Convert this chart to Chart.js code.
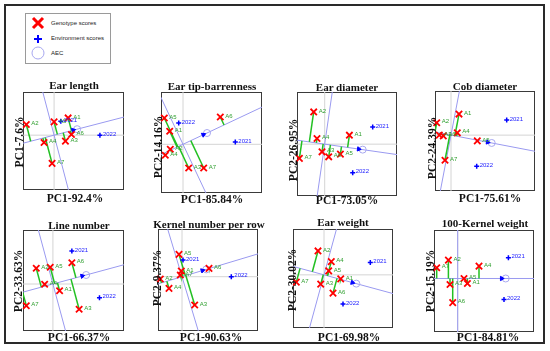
<!DOCTYPE html>
<html>
<head>
<meta charset="utf-8">
<script src="https://cdn.jsdelivr.net/npm/chart.js@4.4.1/dist/chart.umd.min.js"></script>
<style>
  body { margin: 0; background: #fff; }
  #fig { position: relative; width: 550px; height: 351px; overflow: hidden; }
  #frame { position: absolute; left: 4px; top: 4px; width: 537px; height: 336px; border: 2px solid #2a2a2a; }
  #fig canvas { position: absolute; }
  .ttl, .xlab, .ylab {
    position: absolute; white-space: nowrap; color: #111;
    font-family: "Liberation Serif", "Times New Roman", serif; font-weight: bold;
  }
  .ttl { font-size: 11px; transform: translate(-50%, -50%); }
  .xlab { font-size: 11.5px; transform: translate(-50%, -50%); }
  .ylab { font-size: 11.5px; transform: translate(-50%, -50%) rotate(-90deg); }
  #legend { position: absolute; left: 25px; top: 13px; width: 84px; height: 49px; border: 1px solid #9a9a9a; }
  #legend svg { position: absolute; left: 0; top: 0; }
  #legend span { position: absolute; left: 25px; font: 6px "Liberation Sans", Arial, sans-serif; color: #222; transform: translateY(-50%); }
</style>
</head>
<body>
<div id="fig">
  <div id="frame"></div>
  <div id="legend">
    <svg width="84" height="49">
      <path d="M7 4 L17 14 M17 4 L7 14" stroke="#ff0000" stroke-width="3"/>
      <path d="M12 21 L12 29 M8 25 L16 25" stroke="#0000ff" stroke-width="2"/>
      <circle cx="12" cy="39" r="6" fill="none" stroke="#a8a8f0" stroke-width="1"/>
    </svg>
    <span style="top:9px">Genotype scores</span>
    <span style="top:24px">Environment scores</span>
    <span style="top:39px">AEC</span>
  </div>
</div>
<script>
// Biplots GGE (8 caracteres)
const traitTitles = ["Ear length", "Ear tip-barrenness", "Ear diameter", "Cob diameter",
  "Line number", "Kernel number per row", "Ear weight", "100-Kernel weight"];
const pc1Labels = ["PC1-92.4%", "PC1-85.84%", "PC1-73.05%", "PC1-75.61%",
  "PC1-66.37%", "PC1-90.63%", "PC1-69.98%", "PC1-84.81%"];
const pc2Labels = ["PC1-7.6%", "PC2-14.16%", "PC2-26.95%", "PC2-24.39%",
  "PC2-33.63%", "PC2-9.37%", "PC2-30.02%", "PC2-15.19%"];

const genotypes = ["A1", "A2", "A3", "A4", "A5", "A6", "A7"];
const environments = ["2021", "2022"];

// scores por painel, genotipos A1..A7
const genoPC1 = [
  [1.4, -2.77, 1.13, -1.0, 0, 1.73, -0.2],
  [-1.33, -1.27, 0.57, -1.77, -1.87, 3.73, 2.07],
  [2.47, -1.1, -0.27, -0.77, 1.57, 0.4, -2.53],
  [0.8, -1.43, -1.17, 0.63, 2.63, -0.77, -0.6],
  [0.67, -1.67, 2.63, -0.83, -0.27, 1.9, -2.67],
  [-0.07, -2.17, 1.27, -1.3, -0.3, 2.7, -0.17],
  [1.67, -0.6, -0.33, 0.73, 0.47, 0.9, -2.77],
  [0.97, -0.93, -0.77, 2.13, 0.63, -0.5, -2.1],
];
const genoPC2 = [
  [1.73, 1.07, -0.6, -0.73, 1.33, 0.07, -2.83],
  [1.3, -0.5, -2.37, -1.1, 2.63, 2.73, -2.37],
  [0.9, 3.23, -0.77, 0.57, -1.0, -1.27, -1.43],
  [2.1, 1.23, 0, 0.23, -0.57, -0.07, -2.5],
  [-0.67, 1.57, -2.53, -0.03, 1.67, 2.13, -2.17],
  [0.57, -0.23, -2.83, -1.17, 2.23, 0.83, 0.17],
  [-0.4, 2.4, -0.93, 1.33, 0.4, -1.83, -0.73],
  [-0.5, 1.83, -0.6, 1.23, 0, -2.4, 1.07],
];
// ambientes 2021, 2022
const envPC1 = [[0.67, 4.57], [5.23, -0.43], [4.8, 2.8], [5.57, 2.57], [1.9, 4.67], [0.1, 4.93], [4.63, 1.9], [5.07, 4.63]];
const envPC2 = [[1.4, 0], [0.23, 2.13], [1.73, -2.87], [1.5, -3.1], [3.3, -1.37], [1.67, 0], [1.23, -2.93], [2.07, -2.1]];
// ambiente medio (circulo AEC)
const aecPC1 = [2.3, 2.4, 3.8, 4.07, 3.33, 2.43, 3.23, 4.8];
const aecPC2 = [0.6, 1.13, -0.55, -0.78, 0.9, 0.73, -0.88, 0];

// limites dos eixos
const xMin = [-3.1, -2.2, -2.77, -1.6, -3.0, -2.4, -3.1, -2.37];
const xMax = [6.97, 7.9, 7.23, 8.4, 7.13, 7.6, 6.9, 7.63];
const yMin = [-5.5, -4.87, -5.2, -5.57, -4.7, -5.43, -5.33, -5.33];
const yMax = [4.33, 5.23, 5.23, 4.4, 5.4, 4.77, 4.6, 4.83];

// layout: caixa [left, top, w, h], titulo y, xlabel [cx, cy], ylabel [cx, cy]
const boxes = [[23, 92, 101, 98], [161, 92, 101, 101], [297, 92, 100, 104], [435, 91, 100, 100],
  [23, 230, 101, 101], [158, 229, 100, 102], [293, 229, 100, 99], [434, 230, 100, 102]];
const titleY = [85, 86, 87, 86, 225, 224, 222, 223];
const titleX = [74, 212, 347, 485, 79, 209, 343, 485];
const xlabPos = [[75, 198], [212, 199], [347, 200], [490, 198], [79, 337], [211, 337], [349, 337], [488, 337]];
const ylabPos = [[19, 142], [158, 147], [293, 150], [432, 148], [18, 281], [157, 278], [292, 280], [430, 281]];

const PAD = 8;
const fig = document.getElementById("fig");

const addText = (cls, text, x, y) => {
  const el = document.createElement("div");
  el.className = cls;
  el.textContent = text;
  el.style.left = x + "px";
  el.style.top = y + "px";
  fig.appendChild(el);
};

// moldura da area do grafico
const boxBorder = {
  id: "boxBorder",
  beforeDatasetsDraw(chart) {
    const { ctx, chartArea: a } = chart;
    ctx.save();
    ctx.strokeStyle = "#3a3a3a";
    ctx.lineWidth = 1;
    ctx.strokeRect(a.left + 0.5, a.top + 0.5, a.width - 1, a.height - 1);
    ctx.restore();
  },
};

// rotulos dos pontos (A1.., 2021..)
const pointLabels = {
  id: "pointLabels",
  afterDatasetsDraw(chart) {
    const ctx = chart.ctx;
    ctx.save();
    ctx.font = "6px 'Liberation Sans', Arial, sans-serif";
    ctx.textBaseline = "middle";
    chart.data.datasets.forEach((ds, i) => {
      if (!ds.names) return;
      ctx.fillStyle = ds.labelColor;
      chart.getDatasetMeta(i).data.forEach((pt, j) => {
        ctx.fillText(ds.names[j], pt.x + ds.labelDx, pt.y - 1);
      });
    });
    ctx.restore();
  },
};

const lineDs = (data, color, width) => ({
  data,
  showLine: true,
  borderColor: color,
  borderWidth: width,
  pointRadius: 0,
  clip: 0,
});

traitTitles.forEach((title, i) => {
  const [left, top, w, h] = boxes[i];
  const canvas = document.createElement("canvas");
  canvas.width = w + 2 * PAD;
  canvas.height = h + 2 * PAD;
  canvas.style.left = left - PAD + "px";
  canvas.style.top = top - PAD + "px";
  fig.appendChild(canvas);

  addText("ttl", title, titleX[i], titleY[i]);
  addText("xlab", pc1Labels[i], xlabPos[i][0], xlabPos[i][1]);
  addText("ylab", pc2Labels[i], ylabPos[i][0], ylabPos[i][1]);

  const len = Math.hypot(aecPC1[i], aecPC2[i]);
  const dx = aecPC1[i] / len;
  const dy = aecPC2[i] / len;
  const L = 40;

  const geno = genoPC1[i].map((v, j) => ({ x: v, y: genoPC2[i][j] }));
  const env = envPC1[i].map((v, j) => ({ x: v, y: envPC2[i][j] }));

  // projecao de cada genotipo no eixo AEC
  const projections = geno.map((p) => {
    const t = p.x * dx + p.y * dy;
    return lineDs([p, { x: t * dx, y: t * dy }], "#22c022", 1.5);
  });

  const datasets = [
    {
      data: geno,
      names: genotypes,
      labelColor: "#2f9f2f",
      labelDx: 5,
      pointStyle: "crossRot",
      pointRadius: 4.5,
      borderColor: "#ff0000",
      borderWidth: 1.8,
      clip: false,
    },
    {
      data: env,
      names: environments,
      labelColor: "#1a1aff",
      labelDx: 3,
      pointStyle: "cross",
      pointRadius: 2.5,
      borderColor: "#0000ff",
      borderWidth: 1.5,
      clip: false,
    },
    {
      data: [{ x: aecPC1[i] - 0.4 * dx, y: aecPC2[i] - 0.4 * dy }],
      pointStyle: "triangle",
      pointRadius: 2.5,
      rotation: 90 - (Math.atan2(dy, dx) * 180) / Math.PI,
      backgroundColor: "#0000ff",
      borderColor: "#0000ff",
      borderWidth: 1,
    },
    {
      data: [{ x: aecPC1[i], y: aecPC2[i] }],
      pointStyle: "circle",
      pointRadius: 3.5,
      backgroundColor: "rgba(0,0,0,0)",
      borderColor: "#a8a8f0",
      borderWidth: 1,
    },
    ...projections,
    lineDs([{ x: -L * dx, y: -L * dy }, { x: L * dx, y: L * dy }], "#9a9af0", 1),
    lineDs([{ x: L * dy, y: -L * dx }, { x: -L * dy, y: L * dx }], "#9a9af0", 1),
    lineDs([{ x: 0, y: yMin[i] }, { x: 0, y: yMax[i] }], "#d4d4d4", 1),
    lineDs([{ x: xMin[i], y: 0 }, { x: xMax[i], y: 0 }], "#d4d4d4", 1),
  ];

  new Chart(canvas.getContext("2d"), {
    type: "scatter",
    data: { datasets },
    options: {
      responsive: false,
      animation: false,
      events: [],
      layout: { padding: PAD },
      scales: {
        x: { type: "linear", min: xMin[i], max: xMax[i], display: false },
        y: { type: "linear", min: yMin[i], max: yMax[i], display: false },
      },
      plugins: {
        legend: { display: false },
        tooltip: { enabled: false },
      },
    },
    plugins: [boxBorder, pointLabels],
  });
});
</script>
</body>
</html>
